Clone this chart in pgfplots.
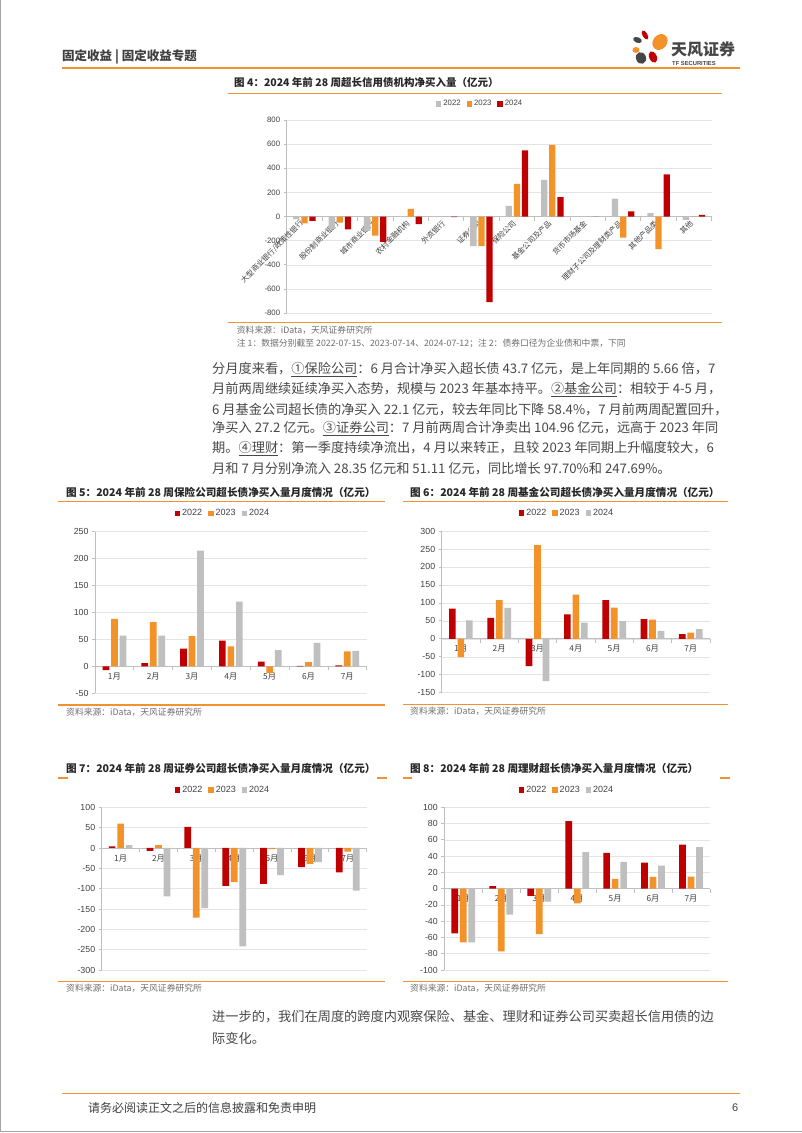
\documentclass[border=0pt]{standalone}
\usepackage{fontspec}
\usepackage{pgfplots}
\pgfplotsset{compat=1.18}
\setmainfont{Liberation Sans}
\newfontfamily\cjk{Noto Sans CJK SC}
\definecolor{tfred}{RGB}{192,0,0}
\definecolor{tforange}{RGB}{244,146,42}
\definecolor{tfgray}{RGB}{191,191,191}
\definecolor{lineorange}{RGB}{240,145,50}
\definecolor{axgray}{RGB}{191,191,191}
\definecolor{grdgray}{RGB}{228,228,228}
\definecolor{lblgray}{RGB}{64,64,64}
\definecolor{txtgray}{RGB}{72,72,72}
\definecolor{srcgray}{RGB}{110,110,110}
\definecolor{logodark}{RGB}{70,70,70}
\definecolor{titlecol}{RGB}{38,38,38}

\pgfplotsset{
  tfbar/.style={
    scale only axis,
    ybar=1.8pt,
    axis y line*=left, axis x line*=middle,
    axis line style={draw=axgray, line width=0.75pt},
    ymajorgrids, grid style={draw=grdgray, line width=0.5pt},
    major x tick style={draw=none},
    minor x tick style={draw=axgray, line width=0.75pt},
    y tick style={draw=axgray, line width=0.75pt},
    major tick length=3pt, minor tick length=4pt,
    tick align=outside,
    hide obscured x ticks=false, hide obscured y ticks=false,
    xmin=-0.5, xmax=6.5,
    xtick={0,...,6},
    minor xtick={-0.5,0.5,...,6.5},
    xticklabels={1月,2月,3月,4月,5月,6月,7月},
    xticklabel style={font=\cjk\fontsize{8.3}{10}\selectfont, text=lblgray},
    yticklabel style={font=\fontsize{8.8}{10}\selectfont, text=lblgray},
    /pgf/number format/assume math mode=true,
    legend style={draw=none, fill=none, legend columns=-1, anchor=center,
      font=\fontsize{9}{10}\selectfont, text=lblgray,
      /tikz/every even column/.append style={column sep=4pt},
      inner sep=0pt},
    legend image code/.code={\fill[##1,draw=none] (0pt,-2.7pt) rectangle (5.4pt,2.7pt);},
  },
}

\newcommand\txt[4]{\node[anchor=west,inner sep=0pt,font=#3] at (#1pt,-#2pt) {#4};}
\newcommand\bodyline[3]{\node[anchor=west, inner sep=0pt, text width=528pt, align=justify, font=\cjk\fontsize{13.2}{16}\selectfont, text=txtgray] at (#1pt,-#2pt) {\XeTeXlinebreaklocale "zh"\XeTeXlinebreakskip=0pt plus 3pt\XeTeXlinebreakpenalty=10000\tolerance=10000\hbadness=10000\parfillskip=0pt #3};}

\begin{document}
\begin{tikzpicture}
\useasboundingbox (0pt,0pt) rectangle (802pt,-1133pt);
\fill[white] (0pt,0pt) rectangle (802pt,-1133pt);
\draw[gray!70, line width=1pt] (0.5pt,0pt) -- (0.5pt,-1131pt) -- (802pt,-1131pt);

% header
\txt{62}{57}{\cjk\bfseries\fontsize{12.5}{14}\selectfont\color{lblgray}}{固定收益~|~固定收益专题}
\draw[lineorange, line width=1.8pt] (62pt,-68pt) -- (740pt,-68pt);
% logo
\fill[tfred, rotate around={30:(645pt,-35pt)}] (645pt,-35pt) ellipse (2.5pt and 5pt);
\fill[tforange, rotate around={-40:(660pt,-42pt)}] (660pt,-42pt) ellipse (7pt and 8.5pt);
\fill[logodark, rotate around={-20:(637.5pt,-40pt)}] (637.5pt,-40pt) ellipse (4.5pt and 2.8pt);
\fill[tforange] (636pt,-50pt) ellipse (3.5pt and 3pt);
\fill[logodark, rotate around={20:(641pt,-58pt)}] (641pt,-58pt) ellipse (5pt and 6pt);
\fill[tfred, rotate around={25:(653pt,-57pt)}] (653pt,-57pt) ellipse (3.8pt and 6pt);
\txt{671}{49.5}{\cjk\bfseries\fontsize{16}{18}\selectfont\color{logodark}}{天风证券}
\txt{672}{63}{\bfseries\fontsize{5.8}{7}\selectfont\color{logodark}}{TF SECURITIES}

% chart 4 frame texts
\txt{234}{83}{\cjk\bfseries\fontsize{10.5}{12}\selectfont\color{titlecol}}{图~4：2024~年前~28~周超长信用债机构净买入量（亿元）}
\draw[lineorange, line width=1pt] (228pt,-93pt) -- (722pt,-93pt);
\draw[lineorange, line width=1.2pt] (228pt,-322.7pt) -- (722pt,-322.7pt);
\txt{236.7}{330.5}{\cjk\fontsize{8.8}{10}\selectfont\color{srcgray}}{资料来源：iData，天风证券研究所}
\txt{236.7}{343.5}{\cjk\fontsize{8.8}{10}\selectfont\color{srcgray}}{注~1：数据分别截至~2022-07-15、2023-07-14、2024-07-12；注~2：债券口径为企业债和中票，下同}

\begin{axis}[tfbar, bar width=6.3pt,
  at={(286.7pt,-313pt)}, anchor=south west,
  width=425pt, height=193pt,
  ymin=-800, ymax=800, ytick={-800,-600,...,800},
  xmin=-0.5, xmax=11.5, xtick={0,...,11}, minor xtick={-0.5,0.5,...,11.5},
  xticklabels={大型商业银行/政策性银行,股份制商业银行,城市商业银行,农村金融机构,外资银行,证券公司,保险公司,基金公司及产品,货币市场基金,理财子公司及理财类产品,其他产品类,其他},
  xticklabel style={rotate=45, anchor=east, font=\cjk\fontsize{7.4}{9}\selectfont},
  yticklabel style={font=\fontsize{7.8}{9}\selectfont},
  legend style={at={(0.455,1.083)}, font=\fontsize{7.8}{9}\selectfont},
]
\addplot[fill=tfgray, draw=none] coordinates {(0,-22) (1,-105) (2,-120) (3,3) (4,0) (5,-245) (6,88) (7,304) (8,0) (9,149) (10,28) (11,-28)};
\addplot[fill=tforange, draw=none] coordinates {(0,-56) (1,-50) (2,-158) (3,64) (4,0) (5,-245) (6,270) (7,593) (8,0) (9,-175) (10,-270) (11,2)};
\addplot[fill=tfred, draw=none] coordinates {(0,-36) (1,-106) (2,-211) (3,-64) (4,-5) (5,-709) (6,549) (7,160) (8,0) (9,42) (10,350) (11,14)};
\legend{2022,2023,2024}
\end{axis}

% body paragraph
\bodyline{212}{369.5}{分月度来看，\underline{①保险公司}：6~月合计净买入超长债~43.7~亿元，是上年同期的~5.66~倍，7}
\bodyline{212}{389.3}{月前两周继续延续净买入态势，规模与~2023~年基本持平。\underline{②基金公司}：相较于~4-5~月，}
\bodyline{212}{409.1}{6~月基金公司超长债的净买入~22.1~亿元，较去年同比下降~58.4\%，7~月前两周配置回升，}
\bodyline{212}{428.9}{净买入~27.2~亿元。\underline{③证券公司}：7~月前两周合计净卖出~104.96~亿元，远高于~2023~年同}
\bodyline{212}{448.7}{期。\underline{④理财}：第一季度持续净流出，4~月以来转正，且较~2023~年同期上升幅度较大，6}
\txt{212}{468.5}{\cjk\fontsize{13.2}{16}\selectfont\color{txtgray}}{月和~7~月分别净流入~28.35~亿元和~51.11~亿元，同比增长~97.70\%和~247.69\%。}

% chart 5
\txt{66}{492.7}{\cjk\bfseries\fontsize{10.6}{12}\selectfont\color{titlecol}}{图~5：2024~年前~28~周保险公司超长债净买入量月度情况（亿元）}
\draw[lineorange, line width=1.1pt] (58pt,-501.7pt) -- (385pt,-501.7pt);
\draw[lineorange, line width=1.2pt] (58pt,-705pt) -- (385pt,-705pt);
\txt{66}{712}{\cjk\fontsize{8.8}{10}\selectfont\color{srcgray}}{资料来源：iData，天风证券研究所}
\begin{axis}[tfbar, bar width=6.7pt,
  at={(95pt,-693.3pt)}, anchor=south west, width=271.7pt, height=161.6pt,
  ymin=-50, ymax=250, ytick={-50,0,...,250},
  legend style={at={(0.471,1.114)}}]
\addplot[fill=tfred, draw=none] coordinates {(0,-7) (1,6) (2,33) (3,48) (4,9) (5,1) (6,2)};
\addplot[fill=tforange, draw=none] coordinates {(0,88) (1,82) (2,56) (3,37) (4,-12) (5,7.7) (6,28)};
\addplot[fill=tfgray, draw=none] coordinates {(0,57) (1,57) (2,215) (3,120) (4,30) (5,43.7) (6,29)};
\legend{2022,2023,2024}
\end{axis}

% chart 6
\txt{410}{492.7}{\cjk\bfseries\fontsize{10.6}{12}\selectfont\color{titlecol}}{图~6：2024~年前~28~周基金公司超长债净买入量月度情况（亿元）}
\draw[lineorange, line width=1.1pt] (403pt,-501.7pt) -- (728pt,-501.7pt);
\draw[lineorange, line width=1.2pt] (403pt,-704.5pt) -- (728pt,-704.5pt);
\txt{410}{711.5}{\cjk\fontsize{8.8}{10}\selectfont\color{srcgray}}{资料来源：iData，天风证券研究所}
\begin{axis}[tfbar, bar width=6.7pt,
  at={(441.7pt,-692.7pt)}, anchor=south west, width=268.3pt, height=161.7pt,
  ymin=-150, ymax=300, ytick={-150,-100,...,300},
  legend style={at={(0.467,1.111)}}]
\addplot[fill=tfred, draw=none] coordinates {(0,84) (1,58) (2,-76) (3,68) (4,108) (5,55) (6,13)};
\addplot[fill=tforange, draw=none] coordinates {(0,-51) (1,108) (2,261) (3,123) (4,87) (5,53.1) (6,17)};
\addplot[fill=tfgray, draw=none] coordinates {(0,51) (1,86) (2,-118) (3,45) (4,49) (5,22.1) (6,27.2)};
\legend{2022,2023,2024}
\end{axis}

% chart 7
\txt{66}{768.3}{\cjk\bfseries\fontsize{10.6}{12}\selectfont\color{titlecol}}{图~7：2024~年前~28~周证券公司超长债净买入量月度情况（亿元）}
\draw[lineorange, line width=1.1pt] (58pt,-778pt) -- (68pt,-778pt);
\draw[lineorange, line width=1.1pt] (377pt,-778pt) -- (387pt,-778pt);
\draw[lineorange, line width=1.2pt] (58pt,-981.7pt) -- (385pt,-981.7pt);
\txt{66}{988.5}{\cjk\fontsize{8.8}{10}\selectfont\color{srcgray}}{资料来源：iData，天风证券研究所}
\begin{axis}[tfbar, bar width=6.7pt,
  at={(101.7pt,-970pt)}, anchor=south west, width=265pt, height=162.7pt,
  ymin=-300, ymax=100, ytick={-300,-250,...,100},
  legend style={at={(0.458,1.106)}}]
\addplot[fill=tfred, draw=none] coordinates {(0,4) (1,-7) (2,52) (3,-93) (4,-88) (5,-47) (6,-60)};
\addplot[fill=tforange, draw=none] coordinates {(0,60) (1,7) (2,-171) (3,-84) (4,-3) (5,-39) (6,-9)};
\addplot[fill=tfgray, draw=none] coordinates {(0,7) (1,-119) (2,-148) (3,-242) (4,-67) (5,-35) (6,-104.96)};
\legend{2022,2023,2024}
\end{axis}

% chart 8
\txt{410}{768.3}{\cjk\bfseries\fontsize{10.6}{12}\selectfont\color{titlecol}}{图~8：2024~年前~28~周理财超长债净买入量月度情况（亿元）}
\draw[lineorange, line width=1.1pt] (403pt,-778pt) -- (412pt,-778pt);
\draw[lineorange, line width=1.1pt] (720pt,-778pt) -- (730pt,-778pt);
\draw[lineorange, line width=1.2pt] (403pt,-981.7pt) -- (728pt,-981.7pt);
\txt{410}{988.5}{\cjk\fontsize{8.8}{10}\selectfont\color{srcgray}}{资料来源：iData，天风证券研究所}
\begin{axis}[tfbar, bar width=6.7pt,
  at={(444.3pt,-970pt)}, anchor=south west, width=265.7pt, height=162.7pt,
  ymin=-100, ymax=100, ytick={-100,-80,...,100},
  legend style={at={(0.462,1.106)}}]
\addplot[fill=tfred, draw=none] coordinates {(0,-55) (1,3) (2,-9) (3,83) (4,44) (5,32) (6,54)};
\addplot[fill=tforange, draw=none] coordinates {(0,-66) (1,-77) (2,-56) (3,-18) (4,12) (5,14.34) (6,14.70)};
\addplot[fill=tfgray, draw=none] coordinates {(0,-66) (1,-32) (2,-16) (3,45) (4,33) (5,28.35) (6,51.11)};
\legend{2022,2023,2024}
\end{axis}

% closing paragraph
\bodyline{212}{1017}{进一步的，我们在周度的跨度内观察保险、基金、理财和证券公司买卖超长信用债的边}
\txt{212}{1038}{\cjk\fontsize{13.2}{16}\selectfont\color{txtgray}}{际变化。}

% footer
\draw[lineorange, line width=1.8pt] (62pt,-1093.5pt) -- (740pt,-1093.5pt);
\txt{88}{1108}{\cjk\fontsize{12}{14}\selectfont\color{lblgray}}{请务必阅读正文之后的信息披露和免责申明}
\txt{732}{1108}{\fontsize{11}{13}\selectfont\color{lblgray}}{6}
\end{tikzpicture}
\end{document}
